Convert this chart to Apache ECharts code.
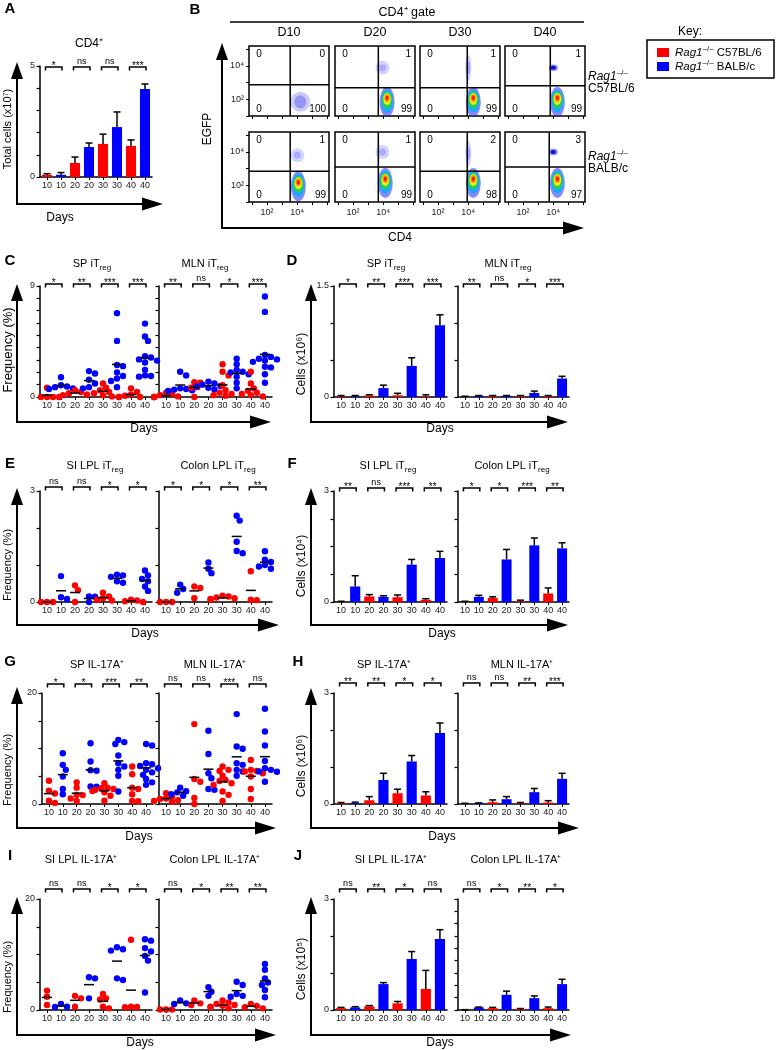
<!DOCTYPE html>
<html><head><meta charset="utf-8">
<script src="https://cdn.jsdelivr.net/npm/echarts@6/dist/echarts.min.js"></script>
<style>html,body{margin:0;padding:0;background:#fff}#c{width:776px;height:1050px}</style>
</head><body><div id="c"></div>
<script>
const FONT = "'Liberation Sans', Arial, Helvetica, sans-serif";
const RED = '#ff0000', BLUE = '#0000ff';

// ---------- categories ----------
const days = ['10','10','20','20','30','30','40','40'];

// ---------- Panel A : total CD4+ cells (x10^7) ----------
const aMean = [0.1, 0.1, 0.63, 1.35, 1.49, 2.25, 1.4, 3.96];
const aErr  = [0.15, 0.2, 0.9, 1.53, 1.93, 2.93, 1.67, 4.19];
const aSig  = ['*','ns','ns','***'];

// ---------- Panel B : flow plots ----------
const flowDays = ['D10','D20','D30','D40'];
const qC57  = [[0,0,0,100],[0,1,0,99],[0,1,0,99],[0,1,0,99]];   // UL, UR, LL, LR
const qBALB = [[0,1,0,99],[0,1,0,99],[0,2,0,98],[0,3,0,97]];
const gateC57  = [[3.53,2.88],[3.67,2.7],[3.93,2.7],[3.8,2.82]];   // log10 CD4 gate, log10 EGFP gate
const gateBALB = [[3.53,2.84],[3.67,3.1],[3.93,2.84],[3.73,3.1]];
const popC57 = [
  [[4.2,1.85,'medium']],
  [[4.25,1.9,'dense'],[3.95,3.9,'sparse']],
  [[4.33,1.9,'dense'],[4.0,3.9,'streak']],
  [[4.27,1.9,'dense'],[4.0,3.9,'spot']]
];
const popBALB = [
  [[4.07,2.0,'dense'],[4.0,3.8,'sparse']],
  [[4.13,2.2,'dense'],[3.95,4.0,'sparse']],
  [[4.33,2.2,'dense'],[4.0,3.9,'streak']],
  [[4.27,2.2,'dense'],[4.0,4.0,'spot']]
];

// ---------- Panel C : iTreg frequency (%) ----------
const cSP = [
  [0.75,0,0,0,0],
  [1.6,0.95,0.85,0.8,0.7,0.65],
  [0.55,0.4,0.3,0.2,0.15],
  [2.1,1.9,1.4,1.1,0.8,0.7],
  [1.1,0.75,0.55,0.4,0.3,0.15,0.05],
  [6.8,4.55,2.6,2.5,2.0,1.7,1.5,1.3,0.8],
  [0.7,0.4,0.2,0.1,0,0,0],
  [5.95,4.9,4.55,3.3,3.2,3.05,2.95,2.8,2.2,1.75,1.7,1.65]
];
const cMLN = [
  [0.35,0.25,0.15,0.05,0,0,0],
  [2.05,1.75,0.7,0.65,0.6,0.55,0.5],
  [1.2,1.15,0.8,0.75,0],
  [1.25,1.1,1.0,0.9,0.85,0.75,0.6],
  [2.65,2.05,1.75,0.95,0.55,0.35,0.25,0.15,0.1],
  [3.1,2.65,2.2,2.05,2.0,1.85,1.65,1.15,0.7],
  [2.05,1.1,0.7,0.5,0.35,0.25,0.15,0.05],
  [8.15,6.9,3.4,3.25,3.1,3.05,2.95,2.85,2.45,2.4,1.85,1.15]
];
const cSPsig = ['*','**','***','***'];
const cMLNsig = ['**','ns','*','***'];

// ---------- Panel D : iTreg cells (x10^6) ----------
const dSPmean = [0.01,0.01,0.02,0.12,0.023,0.42,0.01,0.97];
const dSPerr  = [0.02,0.02,0.03,0.16,0.05,0.53,0.03,1.11];
const dMLNmean = [0.005,0.015,0.015,0.015,0.015,0.055,0.015,0.25];
const dMLNerr  = [0.01,0.02,0.02,0.02,0.02,0.08,0.02,0.28];
const dSPsig = ['*','**','***','***'];
const dMLNsig = ['**','ns','*','***'];

// ---------- Panel E : LPL iTreg frequency (%) ----------
const eSI = [
  [0,0,0],
  [0.7,0.13,0.08],
  [0.45,0.32,0],
  [0.15,0.14,0.0],
  [0.25,0.15,0.1,0.06,0.04],
  [0.74,0.72,0.68,0.56,0.52],
  [0.06,0.04,0.02,0],
  [0.85,0.72,0.62,0.56,0.42,0.3]
];
const eColon = [
  [0,0,0],
  [0.47,0.35,0.25],
  [0.42,0.38,0.1],
  [1.07,0.9,0.78],
  [0.17,0.15,0.12,0.1,0.08,0.06],
  [2.33,2.2,1.63,1.38,1.32],
  [0.83,0.06,0.05],
  [1.37,1.14,1.08,1.0,0.96,0.9]
];
const eSIsig = ['ns','ns','*','*'];
const eColonSig = ['*','*','*','**'];

// ---------- Panel F : LPL iTreg cells (x10^4) ----------
const fSImean = [0.01,0.42,0.15,0.14,0.13,1.01,0.06,1.19];
const fSIerr  = [0.02,0.71,0.2,0.17,0.19,1.15,0.09,1.37];
const fColonMean = [0.01,0.14,0.11,1.15,0.02,1.53,0.23,1.45];
const fColonErr  = [0.02,0.18,0.14,1.42,0.05,1.73,0.38,1.6];
const fSIsig = ['**','ns','***','**'];
const fColonSig = ['*','*','***','**'];

// ---------- Panel G : IL-17A+ frequency (%) ----------
const gSP = [
  [4.2,2.4,1.9,0.6,0.2],
  [9.15,7.05,6.15,4.95,2.7,1.75],
  [3.9,2.95,1.65,1.6,1.0,0.55],
  [10.95,7.65,6.1,6.0,3.15,3.1],
  [3.75,2.95,2.85,2.7,2.55,2.35,2.1,1.5,0.6],
  [11.55,11.15,10.8,8.75,7.35,6.75,6.15,5.1,2.25],
  [6.75,5.35,2.95,2.7,1.75,0.55,0.5],
  [10.8,10.55,7.35,7.15,6.85,6.45,6.15,5.7,5.25,4.5,3.9,3.45]
];
const gMLN = [
  [1.95,1.35,1.0,0.9,0.7,0.55,0.4],
  [2.95,2.3,2.1,1.75,1.5],
  [14.4,4.5,4.0,1.1,0],
  [13.2,9.0,5.55,4.65,2.7,2.55],
  [6.75,6.15,5.95,5.1,4.35,4.15,3.75,3.45,2.25,1.65,0.55],
  [16.2,10.35,9.95,7.35,7.05,6.15,5.85,5.1],
  [7.95,6.15,5.95,5.85,5.55,4.95,2.7,0.9],
  [17.15,13.05,10.55,7.75,6.45,6.15,5.85,5.8,4.0]
];
const gSPsig = ['*','*','***','**'];
const gMLNsig = ['ns','ns','***','ns'];

// ---------- Panel H : IL-17A+ cells (x10^6) ----------
const hSPmean = [0.02,0.02,0.1,0.65,0.29,1.15,0.23,1.92];
const hSPerr  = [0.04,0.05,0.2,0.83,0.4,1.31,0.33,2.19];
const hMLNmean = [0.01,0.02,0.05,0.13,0.02,0.32,0.04,0.68];
const hMLNerr  = [0.02,0.03,0.11,0.2,0.04,0.42,0.09,0.83];
const hSPsig = ['**','**','*','*'];
const hMLNsig = ['ns','ns','**','***'];

// ---------- Panel I : LPL IL-17A+ frequency (%) ----------
const iSI = [
  [3.5,2.4,0.9],
  [1.1,0.6,0.55],
  [2.55,2.1,0.6],
  [5.9,5.7,2.1],
  [2.9,2.1,1.9,0.6,0.3],
  [11.3,10.95,10.7,5.7,5.4],
  [12.65,0.6,0.55,0.5],
  [12.75,12.5,11.15,10.55,9.75,8.9,3.15]
];
const iColon = [
  [0.1,0.1,0.1],
  [1.7,1.2,1.1],
  [1.7,1.2,0.9],
  [4.1,3.3,2.55],
  [1.7,1.35,1.1,0.9,0.75,0.6,0.5,0.3],
  [5.1,4.5,2.9,2.55,2.4],
  [1.1,0.75,0.5,0.3],
  [8.3,7.25,5.7,4.95,4.5,3.6,2.3]
];
const iSIsig = ['ns','ns','*','*'];
const iColonSig = ['ns','*','**','**'];

// ---------- Panel J : LPL IL-17A+ cells (x10^5) ----------
const jSImean = [0.05,0.07,0.1,0.7,0.18,1.38,0.57,1.92];
const jSIerr  = [0.07,0.09,0.12,0.74,0.23,1.58,1.07,2.17];
const jColonMean = [0.005,0.07,0.05,0.41,0.03,0.32,0.05,0.7];
const jColonErr  = [0.01,0.08,0.07,0.51,0.04,0.38,0.08,0.83];
const jSIsig = ['ns','**','*','ns'];
const jColonSig = ['ns','*','**','*'];

// =====================================================================
const grids = [], xAxes = [], yAxes = [], series = [], G = [];

function addCatGrid(c) {
  const gi = grids.length;
  grids.push({left: c.left, top: c.top, width: c.width, height: c.height});
  xAxes.push({gridIndex: gi, type: 'category', data: days, boundaryGap: true,
    axisLine: {show: true, lineStyle: {color: '#000', width: 1.5}},
    axisTick: {show: true, alignWithLabel: true, length: 3, lineStyle: {color: '#000', width: 1}},
    axisLabel: {fontSize: 9, color: '#222', margin: 4, fontFamily: FONT, interval: 0},
    splitLine: {show: false}});
  yAxes.push({gridIndex: gi, type: 'value', min: 0, max: c.yMax, interval: c.yInterval,
    axisLine: {show: true, lineStyle: {color: '#000', width: 1.5}},
    axisTick: {show: true, length: 3.5, lineStyle: {color: '#000', width: 1.2}},
    axisLabel: {show: c.labels !== false, fontSize: 9, color: '#222', margin: 5, fontFamily: FONT,
      formatter: v => (Math.abs(v) < 1e-9 ? '0' : (Math.abs(v - c.yMax) < 1e-6 ? String(c.yMax) : ''))},
    splitLine: {show: false}});
  return gi;
}

function addBrackets(gi, labels, yAbs) {
  series.push({type: 'custom', xAxisIndex: gi, yAxisIndex: gi, animation: false, silent: true, z: 8,
    data: labels.map((s, i) => [i]),
    renderItem: (p, api) => {
      const i = p.dataIndex;
      const a = api.coord([2 * i, 0])[0], b = api.coord([2 * i + 1, 0])[0];
      const x0 = a - 1.5, x1 = b + 1, y = yAbs;
      const lab = labels[i];
      const isStar = lab.charAt(0) === '*';
      return {type: 'group', children: [
        {type: 'polyline', shape: {points: [[x0, y + 3.5], [x0, y], [x1, y], [x1, y + 3.5]]},
          style: {stroke: '#000', lineWidth: 1.5, fill: null}},
        {type: 'text', style: {text: lab, x: (x0 + x1) / 2, y: isStar ? y + 4 : y - 0.5, align: 'center',
          verticalAlign: 'bottom', fontSize: isStar ? 10 : 9, fontFamily: FONT, fill: '#000'}}
      ]};
    }});
}

function swarm(vals, ppu) {
  const idx = vals.map((v, i) => i).sort((a, b) => vals[b] - vals[a]);
  const placed = [], offs = [];
  const steps = [0, 3, -3, 6, -6, 9, -9, 12, -12];
  idx.forEach(i => {
    const y = vals[i] * ppu;
    let dx = steps[steps.length - 1];
    for (const s of steps) {
      if (placed.every(p => Math.hypot(p[0] - s, p[1] - y) >= 5)) { dx = s; break; }
    }
    placed.push([dx, y]); offs[i] = dx;
  });
  return offs;
}

function dotPanel(left, width, top, yMax, yInt, groups, sig, bracketY, labels) {
  const h = 111;
  const gi = addCatGrid({left, width, top, height: h, yMax, yInterval: yInt, labels});
  const ppu = h / yMax;
  const data = [];
  groups.forEach((vals, ci) => {
    const offs = swarm(vals, ppu);
    vals.forEach((v, k) => data.push([ci, v, offs[k]]));
  });
  series.push({type: 'custom', xAxisIndex: gi, yAxisIndex: gi, animation: false, silent: true, z: 4, data,
    renderItem: (p, api) => {
      const pt = api.coord([api.value(0), api.value(1)]);
      return {type: 'circle', shape: {cx: pt[0] + api.value(2), cy: pt[1], r: 3.2},
        style: {fill: api.value(0) % 2 ? BLUE : RED}};
    }});
  const means = groups.map((vals, ci) => [ci, vals.reduce((s, v) => s + v, 0) / vals.length]);
  series.push({type: 'custom', xAxisIndex: gi, yAxisIndex: gi, animation: false, silent: true, z: 6, data: means,
    renderItem: (p, api) => {
      const pt = api.coord([api.value(0), api.value(1)]);
      return {type: 'line', shape: {x1: pt[0] - 5, y1: pt[1], x2: pt[0] + 5, y2: pt[1]},
        style: {stroke: '#000', lineWidth: 1.5}};
    }});
  addBrackets(gi, sig, bracketY);
}

function barPanel(left, width, top, yMax, yInt, means, errs, sig, bracketY, labels, height) {
  const h = height || 111;
  const gi = addCatGrid({left, width, top, height: h, yMax, yInterval: yInt, labels});
  series.push({type: 'bar', xAxisIndex: gi, yAxisIndex: gi, barWidth: '72%', animation: false, silent: true,
    data: means.map((v, i) => ({value: v, itemStyle: {color: i % 2 ? BLUE : RED}}))});
  series.push({type: 'custom', xAxisIndex: gi, yAxisIndex: gi, animation: false, silent: true, z: 5,
    data: means.map((v, i) => [i, v, errs[i]]),
    renderItem: (p, api) => {
      const b = api.coord([api.value(0), api.value(1)]);
      const t = api.coord([api.value(0), api.value(2)]);
      return {type: 'group', children: [
        {type: 'line', shape: {x1: b[0], y1: b[1], x2: t[0], y2: t[1]}, style: {stroke: '#000', lineWidth: 1.5}},
        {type: 'line', shape: {x1: t[0] - 3.5, y1: t[1], x2: t[0] + 3.5, y2: t[1]}, style: {stroke: '#000', lineWidth: 1.5}}
      ]};
    }});
  addBrackets(gi, sig, bracketY);
}

// ---- flow plots ----
const BLOB = {
  dense: [
    {rx: 7.5, ry: 15, dy: 1, fill: 'rgba(40,40,255,0.55)'},
    {rx: 6.2, ry: 11.5, dy: 0, fill: '#1aa8ff'},
    {rx: 5.2, ry: 8.5, dy: -1, fill: '#25cf55'},
    {rx: 3.8, ry: 6, dy: -2, fill: '#e9ee1c'},
    {rx: 2.6, ry: 3.8, dy: -3, fill: '#ff8a00'},
    {rx: 1.5, ry: 2.2, dy: -3, fill: '#ff1a00'}
  ],
  medium: [
    {rx: 10, ry: 10, dy: 0, fill: 'rgba(50,50,230,0.25)'},
    {rx: 6, ry: 6.5, dy: 0, fill: 'rgba(50,50,230,0.35)'}
  ],
  sparse: [
    {rx: 7, ry: 7, dy: 0, fill: 'rgba(60,60,255,0.22)'},
    {rx: 3.5, ry: 3.5, dy: 0, fill: 'rgba(60,60,255,0.28)'}
  ],
  streak: [
    {rx: 3, ry: 13, dy: 0, fill: 'rgba(60,60,255,0.25)'},
    {rx: 2, ry: 6, dy: 0, fill: 'rgba(60,60,255,0.3)'}
  ],
  spot: [
    {rx: 4.5, ry: 3.2, dy: 0, fill: 'rgba(40,40,240,0.55)'},
    {rx: 2.6, ry: 2, dy: 0, fill: '#1010d0'}
  ]
};
const supNum = {2: '10²', 4: '10⁴'};

function flowPlot(left, top, row, col, quad, gate, pops) {
  const gi = grids.length;
  grids.push({left, top, width: 80, height: 70, show: true, borderColor: '#000', borderWidth: 1.5});
  xAxes.push({gridIndex: gi, type: 'value', min: 0.8, max: 6.1, axisLine: {show: false}, splitLine: {show: false},
    axisTick: {show: true, customValues: [1, 2, 3, 4, 5, 6], length: 3, lineStyle: {color: '#000', width: 1}},
    axisLabel: {show: row === 1, customValues: [2, 4], formatter: v => supNum[v] || '', fontSize: 9,
      color: '#222', fontFamily: FONT, margin: 6}});
  yAxes.push({gridIndex: gi, type: 'value', min: 1.0, max: 5.2, axisLine: {show: false}, splitLine: {show: false},
    axisTick: {show: col === 0, customValues: [1, 2, 3, 4, 5], length: 3, lineStyle: {color: '#000', width: 1}},
    axisLabel: {show: col === 0, customValues: [2, 4], formatter: v => supNum[v] || '', fontSize: 9,
      color: '#222', fontFamily: FONT, margin: 5}});
  series.push({type: 'custom', xAxisIndex: gi, yAxisIndex: gi, animation: false, silent: true, clip: true, z: 3,
    data: pops.map(p => [p[0], p[1]]),
    renderItem: (p, api) => {
      const kind = pops[p.dataIndex][2];
      const c = api.coord([api.value(0), api.value(1)]);
      return {type: 'group', children: BLOB[kind].map(L => ({type: 'circle', x: c[0], y: c[1] + L.dy,
        scaleX: L.rx, scaleY: L.ry, shape: {cx: 0, cy: 0, r: 1}, style: {fill: L.fill}}))};
    }});
  series.push({type: 'custom', xAxisIndex: gi, yAxisIndex: gi, animation: false, silent: true, z: 10,
    data: [[gate[0], gate[1]]],
    renderItem: (p, api) => {
      const cs = p.coordSys;
      const g = api.coord([api.value(0), api.value(1)]);
      const t = (text, x, y, align) => ({type: 'text', style: {text: String(text), x, y, align,
        verticalAlign: 'middle', fontSize: 10, fontFamily: FONT, fill: '#000'}});
      return {type: 'group', children: [
        {type: 'line', shape: {x1: g[0], y1: cs.y, x2: g[0], y2: cs.y + cs.height}, style: {stroke: '#000', lineWidth: 1.5}},
        {type: 'line', shape: {x1: cs.x, y1: g[1], x2: cs.x + cs.width, y2: g[1]}, style: {stroke: '#000', lineWidth: 1.5}},
        t(quad[0], cs.x + 10, cs.y + 8, 'center'),
        t(quad[1], cs.x + cs.width - 4, cs.y + 8, 'right'),
        t(quad[2], cs.x + 10, cs.y + cs.height - 7, 'center'),
        t(quad[3], cs.x + cs.width - 3, cs.y + cs.height - 7, 'right')
      ]};
    }});
}

// ---------- graphic helpers ----------
function rich(s) {
  const ss = Math.round(s * 0.7);
  return {
    sub: {fontSize: ss, fontFamily: FONT, lineHeight: ss + 1, verticalAlign: 'bottom'},
    sup: {fontSize: ss, fontFamily: FONT, lineHeight: ss + 1, verticalAlign: 'top'},
    it: {fontSize: s, fontFamily: FONT, fontStyle: 'italic', lineHeight: s + 5}
  };
}
function T(x, y, text, size, o) {
  o = o || {};
  G.push({type: 'text', x, y, rotation: o.rot || 0, z: 20, silent: true,
    style: {text, fontSize: size, fontFamily: FONT, fontWeight: o.bold ? 'bold' : 'normal', fill: '#000',
      align: o.align || 'center', verticalAlign: 'middle', lineHeight: size + 5, rich: rich(size)}});
}
function arrowV(x, yb, yt) {
  G.push({type: 'line', silent: true, shape: {x1: x, y1: yb + 1, x2: x, y2: yt + 14}, style: {stroke: '#000', lineWidth: 2}});
  G.push({type: 'polygon', silent: true, shape: {points: [[x - 6, yt + 17], [x + 6, yt + 17], [x, yt]]}, style: {fill: '#000'}});
}
function arrowH(y, xl, xt) {
  G.push({type: 'line', silent: true, shape: {x1: xl, y1: y, x2: xt - 16, y2: y}, style: {stroke: '#000', lineWidth: 2}});
  G.push({type: 'polygon', silent: true, shape: {points: [[xt - 21, y - 6.5], [xt - 21, y + 6.5], [xt, y]]}, style: {fill: '#000'}});
}
const ROT = Math.PI / 2;

// ================= build =================
// A
barPanel(40, 112, 66, 5, 1, aMean, aErr, aSig, 67, true);
T(10, 9, 'A', 15, {bold: true});
T(89, 44, 'CD4⁺', 12);
arrowV(17, 204, 62); arrowH(204, 17, 163);
T(8, 129, 'Total cells (x10⁷)', 11, {rot: ROT});
T(60, 218, 'Days', 12);

// B
const colL = [249, 335, 420, 505];
for (let c = 0; c < 4; c++) {
  flowPlot(colL[c], 46, 0, c, qC57[c], gateC57[c], popC57[c]);
  flowPlot(colL[c], 132, 1, c, qBALB[c], gateBALB[c], popBALB[c]);
  T(colL[c] + 40, 33, flowDays[c], 12.5);
}
T(195, 10, 'B', 15, {bold: true});
T(407, 13, 'CD4⁺ gate', 12.5);
G.push({type: 'line', silent: true, shape: {x1: 230, y1: 22, x2: 584, y2: 22}, style: {stroke: '#000', lineWidth: 1.5}});
arrowV(222, 228, 43); arrowH(228, 222, 584);
T(208, 129, 'EGFP', 12, {rot: ROT});
T(400, 238, 'CD4', 12);
T(588, 77, '{it|Rag1}{sup|–/–}', 12, {align: 'left'});
T(588, 89, 'C57BL/6', 12, {align: 'left'});
T(588, 157, '{it|Rag1}{sup|–/–}', 12, {align: 'left'});
T(588, 169, 'BALB/c', 12, {align: 'left'});

// Key
T(690, 32, 'Key:', 12);
G.push({type: 'rect', silent: true, shape: {x: 647, y: 40, width: 127, height: 38}, style: {fill: '#fff', stroke: '#000', lineWidth: 1.5}, z: 5});
G.push({type: 'rect', silent: true, shape: {x: 657, y: 48, width: 12, height: 9}, style: {fill: RED}, z: 6});
G.push({type: 'rect', silent: true, shape: {x: 657, y: 62, width: 12, height: 9}, style: {fill: BLUE}, z: 6});
T(675, 53, '{it|Rag1}{sup|–/–} C57BL/6', 11.5, {align: 'left'});
T(675, 67, '{it|Rag1}{sup|–/–} BALB/c', 11.5, {align: 'left'});

// C
dotPanel(40, 112, 286, 9, 1, cSP, cSPsig, 284, true);
dotPanel(159, 113, 286, 9, 1, cMLN, cMLNsig, 284, false);
T(10, 261, 'C', 15, {bold: true});
T(92, 264, 'SP iT{sub|reg}', 11);
T(205, 264, 'MLN iT{sub|reg}', 11);
arrowV(17, 422, 284); arrowH(422, 17, 271);
T(8, 350, 'Frequency (%)', 13, {rot: ROT});
T(144, 429, 'Days', 12);

// D
barPanel(334, 113, 286, 1.5, 0.5, dSPmean, dSPerr, dSPsig, 284, true);
barPanel(458, 111, 286, 1.5, 0.5, dMLNmean, dMLNerr, dMLNsig, 284, false);
T(292, 261, 'D', 15, {bold: true});
T(386, 264, 'SP iT{sub|reg}', 11);
T(508, 264, 'MLN iT{sub|reg}', 11);
arrowV(311, 422, 284); arrowH(422, 311, 568);
T(302, 364, 'Cells (x10⁶)', 12, {rot: ROT});
T(440, 429, 'Days', 12);

// E
dotPanel(40, 112, 491, 3, 1, eSI, eSIsig, 487, true);
dotPanel(159, 113, 491, 3, 1, eColon, eColonSig, 487, false);
T(10, 464, 'E', 15, {bold: true});
T(95, 466, 'SI LPL iT{sub|reg}', 11);
T(218, 466, 'Colon LPL iT{sub|reg}', 11);
arrowV(17, 625, 488); arrowH(625, 17, 279);
T(8, 565, 'Frequency (%)', 11, {rot: ROT});
T(145, 634, 'Days', 12);

// F
barPanel(334, 113, 491, 3, 0.75, fSImean, fSIerr, fSIsig, 488, true);
barPanel(458, 111, 491, 3, 0.75, fColonMean, fColonErr, fColonSig, 488, false);
T(292, 464, 'F', 15, {bold: true});
T(388, 466, 'SI LPL iT{sub|reg}', 11);
T(512, 466, 'Colon LPL iT{sub|reg}', 11);
arrowV(311, 625, 488); arrowH(625, 311, 568);
T(302, 566, 'Cells (x10⁴)', 12, {rot: ROT});
T(442, 634, 'Days', 12);

// G
dotPanel(42, 111, 693, 20, 5, gSP, gSPsig, 684, true);
dotPanel(159, 113, 693, 20, 5, gMLN, gMLNsig, 684, false);
T(10, 662, 'G', 15, {bold: true});
T(97, 665, 'SP IL-17A⁺', 11);
T(215, 665, 'MLN IL-17A⁺', 11);
arrowV(17, 828, 687); arrowH(828, 17, 276);
T(8, 770, 'Frequency (%)', 11, {rot: ROT});
T(139, 837, 'Days', 12);

// H
barPanel(334, 113, 693, 3, 1, hSPmean, hSPerr, hSPsig, 683, true);
barPanel(458, 111, 693, 3, 1, hMLNmean, hMLNerr, hMLNsig, 683, false);
T(298, 662, 'H', 15, {bold: true});
T(384, 665, 'SP IL-17A⁺', 11);
T(522, 665, 'MLN IL-17A⁺', 11);
arrowV(311, 828, 688); arrowH(828, 311, 579);
T(302, 766, 'Cells (x10⁶)', 12, {rot: ROT});
T(442, 837, 'Days', 12);

// I
dotPanel(40, 112, 899, 20, 5, iSI, iSIsig, 889, true);
dotPanel(159, 113, 899, 20, 5, iColon, iColonSig, 889, false);
T(10, 856, 'I', 15, {bold: true});
T(81, 860, 'SI LPL IL-17A⁺', 11);
T(215, 860, 'Colon LPL IL-17A⁺', 11);
arrowV(17, 1035, 897); arrowH(1035, 17, 276);
T(8, 977, 'Frequency (%)', 11, {rot: ROT});
T(140, 1043, 'Days', 12);

// J
barPanel(334, 113, 899, 3, 1, jSImean, jSIerr, jSIsig, 889, true);
barPanel(458, 111, 899, 3, 1 / 3, jColonMean, jColonErr, jColonSig, 889, false);
T(298, 856, 'J', 15, {bold: true});
T(391, 860, 'SI LPL IL-17A⁺', 11);
T(516, 860, 'Colon LPL IL-17A⁺', 11);
arrowV(311, 1035, 897); arrowH(1035, 311, 571);
T(302, 969, 'Cells (x10⁵)', 12, {rot: ROT});
T(440, 1043, 'Days', 12);

const chart = echarts.init(document.getElementById('c'), null, {renderer: 'canvas', width: 776, height: 1050});
chart.setOption({
  animation: false,
  backgroundColor: '#fff',
  textStyle: {fontFamily: FONT},
  grid: grids, xAxis: xAxes, yAxis: yAxes, series,
  graphic: {elements: G}
});
</script>
</body></html>
